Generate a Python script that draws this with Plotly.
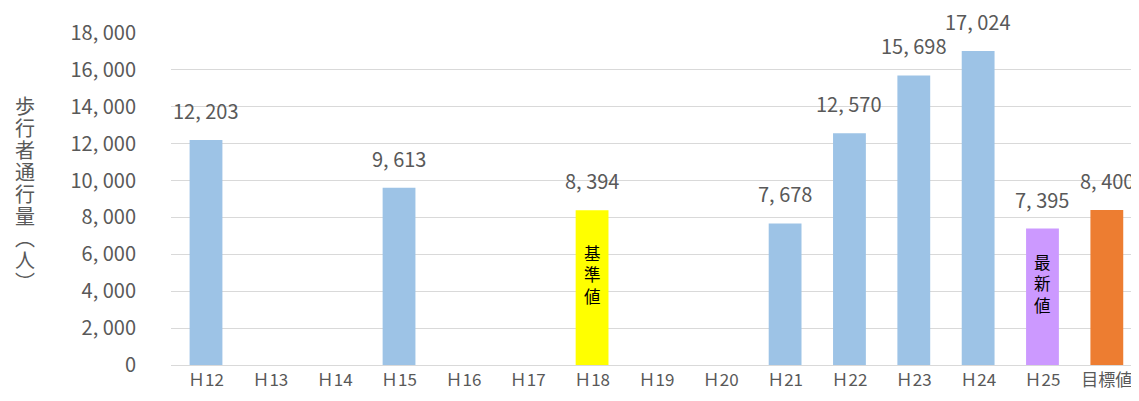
import plotly.graph_objects as go

categories = ["Ｈ12", "Ｈ13", "Ｈ14", "Ｈ15", "Ｈ16", "Ｈ17", "Ｈ18", "Ｈ19", "Ｈ20",
              "Ｈ21", "Ｈ22", "Ｈ23", "Ｈ24", "Ｈ25", "目標値"]
values = [12203, None, None, 9613, None, None, 8394, None, None,
          7678, 12570, 15698, 17024, 7395, 8400]
bar_colors = ["#9DC3E6"] * 6 + ["#FFFF00"] + ["#9DC3E6"] * 6 + ["#CC99FF", "#ED7D31"]
inner_labels = {"Ｈ18": "基準値", "Ｈ25": "最新値"}
y_ticks = list(range(0, 18001, 2000))
y_title = "歩行者通行量︵人︶"

FONT = "Noto Sans CJK JP"
GRAY = "#595959"


def fmt(v):
    return f"{v:,}".replace(",", ", ")


fig = go.Figure()
fig.add_trace(go.Bar(
    x=categories, y=values, marker=dict(color=bar_colors, line=dict(width=0)),
    hoverinfo="skip",
))

annotations = []
for c, v in zip(categories, values):
    if v is None:
        continue
    annotations.append(dict(x=c, y=v, xref="x", yref="y", text=fmt(v),
                            showarrow=False, yanchor="bottom", yshift=13,
                            font=dict(family=FONT, size=20, color=GRAY)))
    if c in inner_labels:
        annotations.append(dict(x=c, y=v / 2, xref="x", yref="y",
                                text="<br>".join(inner_labels[c]),
                                showarrow=False, xanchor="center", yanchor="middle",
                                yshift=13,
                                font=dict(family=FONT, size=16.5, color="#000000")))

# vertical axis title, one character per line
n = len(y_title)
for i, ch in enumerate(y_title):
    annotations.append(dict(x=0, y=0.5, xref="paper", yref="paper", xshift=-146,
                            yshift=6 + ((n - 1) / 2 - i) * 22,
                            text=ch, showarrow=False, xanchor="center", yanchor="middle",
                            font=dict(family=FONT, size=20, color=GRAY)))

# the page body adds an 8px margin, so the figure is sized to fit the 1139x401 window
fig.update_layout(
    width=1131, height=393,
    margin=dict(l=163, r=0, t=25, b=36),
    paper_bgcolor="white", plot_bgcolor="white",
    bargap=0.49,
    showlegend=False,
    font=dict(family=FONT, color=GRAY),
    xaxis=dict(showgrid=False, showline=True, linecolor="#D9D9D9", linewidth=1,
               ticks="", automargin=False,
               tickfont=dict(family=FONT, size=17, color=GRAY)),
    yaxis=dict(range=[0, 18000], tickvals=y_ticks,
               ticktext=[fmt(t) for t in y_ticks],
               showgrid=True, gridcolor="#D9D9D9", gridwidth=1,
               zeroline=False, showline=False, ticks="", automargin=False,
               ticklabelstandoff=34,
               tickfont=dict(family=FONT, size=20, color=GRAY)),
    annotations=annotations,
)

fig.write_html("out.html")
